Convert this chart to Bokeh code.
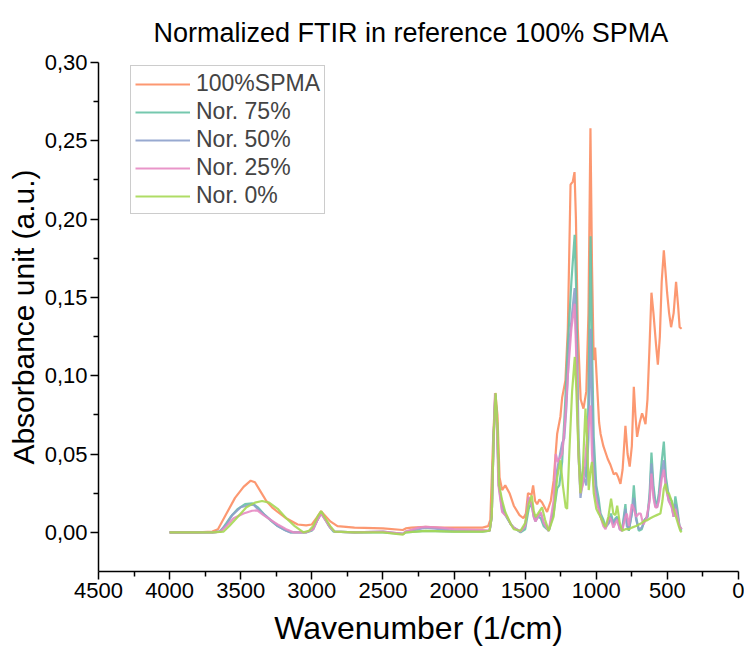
from bokeh.plotting import figure
from bokeh.models import Range1d, FixedTicker, Legend, LegendItem
from bokeh.embed import file_html
from bokeh.resources import INLINE

# ---------------- data ----------------
wn_100 = [4000, 3800, 3700, 3660, 3600, 3540, 3480, 3430, 3400, 3360, 3320, 3280, 3240, 3180, 3100, 3040,
          3000, 2960, 2935, 2910, 2870, 2820, 2700, 2500, 2360, 2340, 2300, 2200, 2100, 2000, 1900, 1800,
          1760, 1745, 1725, 1710, 1695, 1680, 1662, 1640, 1610, 1580, 1540, 1512, 1495, 1480, 1455, 1444,
          1430, 1416, 1400, 1381, 1346, 1320, 1300, 1275, 1252, 1240, 1217, 1200, 1181, 1165, 1153, 1143,
          1130, 1110, 1090, 1070, 1055, 1041, 1030, 1018, 1008, 995, 980, 970, 950, 920, 900, 877, 860,
          845, 830, 815, 795, 780, 765, 750, 736, 725, 713, 695, 678, 666, 654, 640, 625, 612, 598, 580,
          567, 553, 540, 525, 512, 502, 488, 474, 456, 439, 425, 414, 400]
ab_100 = [0.0, 0.0, 0.0005, 0.002, 0.012, 0.022, 0.029, 0.033, 0.032, 0.026, 0.020, 0.016, 0.013, 0.009, 0.005, 0.0045,
          0.005, 0.010, 0.0135, 0.011, 0.007, 0.004, 0.003, 0.0025, 0.0015, 0.0025, 0.003, 0.0035, 0.003, 0.003, 0.003, 0.003,
          0.004, 0.008, 0.060, 0.089, 0.075, 0.035, 0.027, 0.030, 0.025, 0.017, 0.011, 0.009, 0.012, 0.025, 0.024, 0.030,
          0.020, 0.018, 0.021, 0.019, 0.013, 0.020, 0.033, 0.063, 0.074, 0.086, 0.097, 0.130, 0.222, 0.224, 0.230, 0.200,
          0.130, 0.085, 0.079, 0.090, 0.140, 0.258, 0.170, 0.110, 0.118, 0.095, 0.070, 0.063, 0.055, 0.047, 0.043, 0.037, 0.038,
          0.035, 0.031, 0.040, 0.068, 0.050, 0.042, 0.055, 0.093, 0.075, 0.061, 0.070, 0.076, 0.073, 0.069, 0.085, 0.120, 0.153, 0.140, 0.120,
          0.107, 0.125, 0.160, 0.180, 0.165, 0.153, 0.140, 0.131, 0.140, 0.160, 0.145, 0.131, 0.130]

wn_75 = [4000, 3700, 3642, 3600, 3572, 3520, 3470, 3419, 3380, 3330, 3291, 3240, 3190, 3150, 3040, 3000,
         2960, 2934, 2910, 2880, 2848, 2700, 2500, 2360, 2340, 2200, 2000, 1800, 1750, 1735, 1722, 1710,
         1698, 1685, 1662, 1640, 1627, 1600, 1580, 1533, 1500, 1475, 1455, 1440, 1428, 1410, 1390, 1370,
         1334, 1300, 1275, 1260, 1240, 1220, 1200, 1175, 1152, 1140, 1125, 1110, 1100, 1088, 1075, 1060,
         1050, 1040, 1030, 1018, 1000, 984, 970, 950, 935, 910, 896, 880, 865, 853, 835, 818, 795, 785,
         771, 750, 736, 720, 701, 680, 660, 640, 625, 612, 598, 585, 572, 560, 540, 525, 510, 490, 470,
         456, 444, 430, 415, 409, 400]
ab_75 = [0.0, 0.0, 0.0005, 0.006, 0.0098, 0.015, 0.018, 0.0185, 0.016, 0.011, 0.0077, 0.004, 0.0015, 0.0, 0.0, 0.001,
         0.008, 0.013, 0.009, 0.004, 0.0005, 0.0, 0.0, -0.001, 0.0, 0.001, 0.0005, 0.0005, 0.001, 0.010, 0.060, 0.088,
         0.070, 0.030, 0.018, 0.012, 0.009, 0.005, 0.003, 0.0, 0.002, 0.015, 0.019, 0.012, 0.008, 0.010, 0.009, 0.004,
         0.001, 0.012, 0.028, 0.030, 0.045, 0.080, 0.120, 0.160, 0.190, 0.150, 0.060, 0.030, 0.035, 0.042, 0.035, 0.060,
         0.120, 0.189, 0.120, 0.061, 0.030, 0.022, 0.012, 0.008, 0.004, 0.007, 0.012, 0.006, 0.009, 0.010, 0.003, 0.002, 0.018, 0.006,
         0.001, 0.012, 0.030, 0.010, 0.001, 0.002, 0.008, 0.010, 0.025, 0.051, 0.030, 0.020, 0.018, 0.025, 0.045, 0.058, 0.035, 0.023, 0.020,
         0.012, 0.023, 0.015, 0.004, 0.002, 0.001]

wn_50 = [4000, 3700, 3650, 3600, 3560, 3500, 3440, 3410, 3380, 3330, 3290, 3240, 3180, 3150, 3040, 2990,
         2960, 2934, 2905, 2870, 2840, 2700, 2500, 2360, 2340, 2250, 2200, 2100, 2000, 1800, 1750, 1735,
         1722, 1710, 1698, 1685, 1662, 1640, 1627, 1600, 1580, 1533, 1500, 1475, 1455, 1440, 1428, 1410,
         1390, 1370, 1334, 1300, 1275, 1240, 1225, 1210, 1190, 1170, 1152, 1140, 1125, 1111, 1100, 1088,
         1070, 1055, 1040, 1030, 1018, 1000, 984, 970, 950, 935, 910, 896, 880, 865, 853, 835, 818, 795,
         785, 771, 750, 736, 720, 701, 680, 660, 640, 625, 612, 598, 585, 572, 560, 540, 525, 510, 490,
         470, 456, 444, 430, 415, 400]
ab_50 = [0.0, 0.0, 0.0005, 0.005, 0.011, 0.016, 0.0175, 0.0177, 0.015, 0.011, 0.008, 0.004, 0.001, 0.0, 0.0, 0.002,
         0.008, 0.012, 0.008, 0.003, 0.0005, 0.0, 0.0005, -0.001, 0.0005, 0.002, 0.003, 0.002, 0.001, 0.001, 0.001, 0.010,
         0.060, 0.088, 0.070, 0.030, 0.014, 0.011, 0.0095, 0.005, 0.003, 0.0005, 0.004, 0.022, 0.018, 0.010, 0.007, 0.010,
         0.012, 0.006, 0.001, 0.015, 0.040, 0.057, 0.060, 0.080, 0.120, 0.140, 0.156, 0.120, 0.050, 0.022, 0.030, 0.035,
         0.030, 0.060, 0.130, 0.080, 0.045, 0.025, 0.017, 0.010, 0.006, 0.003, 0.006, 0.010, 0.005, 0.008, 0.009, 0.002, 0.001, 0.015,
         0.004, 0.002, 0.012, 0.022, 0.008, 0.002, 0.003, 0.008, 0.010, 0.022, 0.044, 0.025, 0.017, 0.016, 0.022, 0.038, 0.046, 0.030, 0.020,
         0.017, 0.010, 0.018, 0.012, 0.004, 0.002]

wn_25 = [4000, 3700, 3640, 3600, 3550, 3480, 3420, 3384, 3340, 3290, 3240, 3180, 3130, 3040, 2990, 2960,
         2934, 2905, 2870, 2840, 2700, 2500, 2360, 2340, 2250, 2200, 2100, 2000, 1800, 1750, 1735, 1722,
         1712, 1700, 1688, 1662, 1640, 1627, 1600, 1580, 1533, 1500, 1475, 1455, 1440, 1428, 1410, 1390,
         1370, 1334, 1300, 1285, 1270, 1252, 1240, 1220, 1200, 1175, 1152, 1140, 1125, 1111, 1095, 1075,
         1055, 1040, 1030, 1018, 1000, 984, 970, 950, 935, 910, 896, 880, 865, 853, 835, 818, 795, 785,
         771, 750, 736, 720, 701, 688, 670, 650, 625, 612, 598, 585, 572, 560, 540, 525, 510, 490, 470,
         456, 444, 430, 415, 400]
ab_25 = [0.0, 0.0, 0.0005, 0.004, 0.009, 0.012, 0.0138, 0.014, 0.011, 0.008, 0.005, 0.002, 0.0, 0.0, 0.002, 0.008,
         0.012, 0.008, 0.003, 0.0005, 0.0, 0.0005, -0.001, 0.0005, 0.003, 0.0035, 0.003, 0.002, 0.0015, 0.001, 0.010, 0.060,
         0.089, 0.070, 0.030, 0.013, 0.011, 0.0098, 0.005, 0.003, 0.0005, 0.004, 0.0226, 0.018, 0.010, 0.007, 0.010, 0.013,
         0.006, 0.001, 0.020, 0.050, 0.045, 0.048, 0.050, 0.070, 0.100, 0.130, 0.146, 0.110, 0.050, 0.025, 0.030, 0.050,
         0.070, 0.081, 0.050, 0.030, 0.020, 0.015, 0.010, 0.004, 0.002, 0.0098, 0.008, 0.003, 0.006, 0.008, 0.002, 0.001, 0.010, 0.012,
         0.004, 0.018, 0.015, 0.010, 0.012, 0.012, 0.005, 0.008, 0.020, 0.0375, 0.022, 0.016, 0.016, 0.020, 0.034, 0.040, 0.028, 0.020, 0.016,
         0.010, 0.015, 0.010, 0.004, 0.002]

wn_0 = [4000, 3700, 3620, 3580, 3520, 3460, 3400, 3350, 3300, 3240, 3180, 3120, 3059, 3020, 2990, 2960,
        2934, 2905, 2870, 2840, 2700, 2500, 2360, 2340, 2200, 2000, 1800, 1750, 1735, 1722, 1708, 1696,
        1683, 1662, 1640, 1620, 1600, 1580, 1533, 1500, 1475, 1454, 1440, 1428, 1410, 1381, 1360, 1334,
        1300, 1275, 1252, 1235, 1215, 1205, 1190, 1170, 1151, 1140, 1125, 1111, 1095, 1076, 1065, 1053,
        1040, 1030, 1018, 1000, 984, 970, 950, 935, 915, 896, 880, 865, 853, 835, 818, 795, 771, 750,
        720, 700, 680, 660, 643, 620, 600, 575, 549, 535, 525, 514, 500, 490, 470, 456, 440, 420, 409, 400]
ab_0 = [0.0, 0.0, 0.0005, 0.004, 0.010, 0.016, 0.019, 0.020, 0.019, 0.015, 0.009, 0.004, 0.0, 0.001, 0.004, 0.010,
        0.0135, 0.009, 0.004, 0.0005, 0.0, 0.0, -0.0015, 0.0, 0.001, 0.0005, 0.0005, 0.001, 0.010, 0.060, 0.089, 0.070,
        0.030, 0.0204, 0.013, 0.009, 0.005, 0.002, 0.001, 0.006, 0.018, 0.0236, 0.014, 0.0098, 0.012, 0.016, 0.008, 0.001,
        0.010, 0.035, 0.046, 0.030, 0.016, 0.015, 0.050, 0.090, 0.112, 0.090, 0.050, 0.025, 0.040, 0.079, 0.060, 0.027,
        0.040, 0.045, 0.025, 0.015, 0.012, 0.0098, 0.006, 0.0034, 0.010, 0.0215, 0.012, 0.011, 0.017, 0.006, 0.001, 0.002, 0.002, 0.003,
        0.004, 0.005, 0.006, 0.0075, 0.0077, 0.009, 0.010, 0.011, 0.012, 0.020, 0.028, 0.031, 0.025, 0.025, 0.020, 0.015, 0.010, 0.004, 0.001, 0.0]

series_names = ["100%SPMA", "Nor. 75%", "Nor. 50%", "Nor. 25%", "Nor. 0%"]
series_colors = ["#FC8D62", "#66C2A5", "#8DA0CB", "#E78AC3", "#A6D854"]

x_ticks = [0, 500, 1000, 1500, 2000, 2500, 3000, 3500, 4000, 4500]
y_ticks = [0.0, 0.05, 0.10, 0.15, 0.20, 0.25, 0.30]
y_tick_labels = ["0,00", "0,05", "0,10", "0,15", "0,20", "0,25", "0,30"]

# ---------------- figure ----------------
FONT = "Liberation Sans"
p = figure(width=744, height=650, output_backend="svg", toolbar_location=None,
           x_range=Range1d(4500, 0), y_range=Range1d(-0.025, 0.30),
           min_border_left=98, min_border_right=6, min_border_top=61, min_border_bottom=79,
           title="Normalized FTIR in reference 100% SPMA")
p.title.text_font = FONT
p.title.text_font_size = "27px"
p.title.text_font_style = "normal"
p.title.text_color = "black"
p.title.align = "left"
p.title.offset = 55
p.title.standoff = 30
p.outline_line_color = None
p.grid.visible = False
p.background_fill_color = "white"
p.border_fill_color = "white"

renderers = []
for wn, ab, col in zip([wn_100, wn_75, wn_50, wn_25, wn_0],
                       [ab_100, ab_75, ab_50, ab_25, ab_0], series_colors):
    r = p.line(wn, ab, line_color=col, line_width=2.2, line_alpha=0.9)
    renderers.append(r)

# axes
p.xaxis.ticker = FixedTicker(ticks=x_ticks, minor_ticks=[v + 250 for v in x_ticks[:-1]])
p.yaxis.ticker = FixedTicker(ticks=y_ticks, minor_ticks=[v + 0.025 for v in y_ticks[:-1]])
p.yaxis.major_label_overrides = {v: s for v, s in zip(y_ticks, y_tick_labels)}
for ax in (p.xaxis[0], p.yaxis[0]):
    ax.axis_line_color = "black"
    ax.axis_line_width = 1.5
    ax.major_tick_line_color = "black"
    ax.major_tick_line_width = 1.5
    ax.minor_tick_line_color = "black"
    ax.minor_tick_line_width = 1.5
    ax.major_tick_out = 8
    ax.major_tick_in = 0
    ax.minor_tick_out = 5
    ax.minor_tick_in = 0
    ax.major_label_text_font = FONT
    ax.major_label_text_font_size = "22px"
    ax.major_label_text_color = "black"
    ax.axis_label_text_font = FONT
    ax.axis_label_text_font_style = "normal"
    ax.axis_label_text_color = "black"
p.xaxis.axis_label = "Wavenumber (1/cm)"
p.yaxis.axis_label = "Absorbance unit (a.u.)"
p.xaxis.axis_label_text_font_size = "32px"
p.yaxis.axis_label_text_font_size = "30px"
p.xaxis.major_label_standoff = 3
p.yaxis.major_label_standoff = 3
p.xaxis.axis_label_standoff = 9
p.yaxis.axis_label_standoff = 2

legend = Legend(items=[LegendItem(label=n, renderers=[r]) for n, r in zip(series_names, renderers)],
                location=(32, 357))
legend.label_text_font = FONT
legend.label_text_font_size = "23px"
legend.glyph_width = 55
legend.glyph_height = 24
legend.label_height = 24
legend.spacing = 1
legend.padding = 4
legend.margin = 0
legend.label_standoff = 6
legend.border_line_color = "#999999"
legend.border_line_width = 1
legend.background_fill_alpha = 1.0
p.add_layout(legend, "center")

open("out.html", "w").write(file_html(p, INLINE))
